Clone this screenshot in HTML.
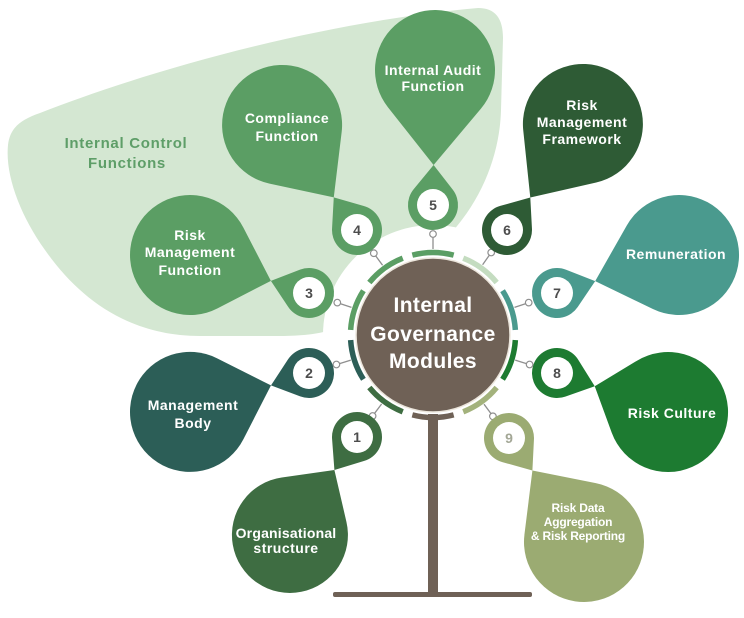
<!DOCTYPE html>
<html>
<head>
<meta charset="utf-8">
<style>
html,body{margin:0;padding:0;background:#fff;}
svg{display:block;}
text{font-family:"Liberation Sans",Arial,sans-serif;font-weight:bold;}
.lbl{fill:#fff;font-size:14px;letter-spacing:0.5px;text-anchor:middle;}
.num{fill:#4d4d4d;font-size:14px;text-anchor:middle;}
.ctr{fill:#fff;font-size:21px;letter-spacing:0.4px;text-anchor:middle;}
.icf{fill:#5e9e68;font-size:15px;letter-spacing:0.7px;text-anchor:middle;}
.rd{fill:#fff;font-size:12px;letter-spacing:-0.2px;text-anchor:middle;}
.seg{fill:none;stroke-width:5.5;}
.con{stroke:#8f8f8f;stroke-width:1.3;fill:none;}
.cc{stroke:#8f8f8f;stroke-width:1.2;fill:#fff;}
</style>
</head>
<body>
<svg width="744" height="618" viewBox="0 0 744 618" xmlns="http://www.w3.org/2000/svg">
<rect width="744" height="618" fill="#fff"/>

<!-- background blob -->
<path d="M478,8 C495,8 503,18 503,38 L501,110 C500,150 485,195 452,232 L330,330 C320,334 300,336 280,336 L200,336 C130,336 80,300 45,250 C20,215 5,175 8,145 C10,128 20,120 40,113 C150,70 320,22 478,8 Z" fill="#d4e7d2"/>
<circle cx="433" cy="335" r="110" fill="#fff"/>

<!-- ring segments -->
<path class="seg" stroke="#5b9e64" d="M412.34,255.13 A82.5,82.5 0 0,1 453.66,255.13"/>
<path class="seg" stroke="#c4dcc0" d="M463.24,258.24 A82.5,82.5 0 0,1 496.66,282.52"/>
<path class="seg" stroke="#4a9a8e" d="M502.58,290.67 A82.5,82.5 0 0,1 515.35,329.97"/>
<path class="seg" stroke="#1d7b31" d="M515.35,340.03 A82.5,82.5 0 0,1 502.58,379.33"/>
<path class="seg" stroke="#a3b27c" d="M496.66,387.48 A82.5,82.5 0 0,1 463.24,411.76"/>
<path class="seg" stroke="#6f6156" d="M453.66,414.87 A82.5,82.5 0 0,1 412.34,414.87"/>
<path class="seg" stroke="#3e6d42" d="M402.76,411.76 A82.5,82.5 0 0,1 369.34,387.48"/>
<path class="seg" stroke="#2c5e57" d="M363.42,379.33 A82.5,82.5 0 0,1 350.65,340.03"/>
<path class="seg" stroke="#5b9e64" d="M350.65,329.97 A82.5,82.5 0 0,1 363.42,290.67"/>
<path class="seg" stroke="#5b9e64" d="M369.34,282.52 A82.5,82.5 0 0,1 402.76,258.24"/>

<!-- stem -->
<rect x="428" y="414" width="10" height="180" fill="#6f6156"/>
<rect x="333" y="592" width="199" height="5" rx="2" fill="#6f6156"/>

<!-- center circle -->
<circle cx="433" cy="335" r="77" fill="#6f6156" stroke="#ece6dc" stroke-width="1.5"/>

<!-- connectors -->
<line class="con" x1="433" y1="249" x2="433" y2="237.3"/><circle class="cc" cx="433" cy="234" r="3.3"/>
<line class="con" x1="382.6" y1="265.3" x2="375.7" y2="255.9"/><circle class="cc" cx="373.8" cy="253.2" r="3.3"/>
<line class="con" x1="482.6" y1="264.7" x2="489.3" y2="255.2"/><circle class="cc" cx="491.2" cy="252.5" r="3.3"/>
<line class="con" x1="351.5" y1="307.4" x2="340.5" y2="303.7"/><circle class="cc" cx="337.3" cy="302.6" r="3.3"/>
<line class="con" x1="514.5" y1="307.4" x2="525.5" y2="303.7"/><circle class="cc" cx="528.7" cy="302.6" r="3.3"/>
<line class="con" x1="350.8" y1="360.1" x2="339.6" y2="363.6"/><circle class="cc" cx="336.4" cy="364.5" r="3.3"/>
<line class="con" x1="515.2" y1="360.1" x2="526.4" y2="363.6"/><circle class="cc" cx="529.6" cy="364.5" r="3.3"/>
<line class="con" x1="381.6" y1="404" x2="374.6" y2="413.3"/><circle class="cc" cx="372.6" cy="416" r="3.3"/>
<line class="con" x1="484" y1="404.2" x2="491" y2="413.6"/><circle class="cc" cx="492.9" cy="416.3" r="3.3"/>

<!-- module 5 -->
<g transform="translate(433,205) rotate(-89.15)" fill="#5b9e64">
<path d="M40,0 L15.63,-19.51 A25,25 0 1,0 15.63,19.51 Z"/>
<path d="M40,0 L97.11,-46.52 A60,60 0 1,1 97.11,46.52 Z"/>
</g>
<!-- module 4 -->
<g transform="translate(357,230) rotate(-125.5)" fill="#5b9e64">
<path d="M40,0 L15.63,-19.51 A25,25 0 1,0 15.63,19.51 Z"/>
<path d="M40,0 L88.55,-44.31 A60,60 0 1,1 88.55,44.31 Z"/>
</g>
<!-- module 6 -->
<g transform="translate(507,230) rotate(-54.4)" fill="#2e5b35">
<path d="M40,0 L15.63,-19.51 A25,25 0 1,0 15.63,19.51 Z"/>
<path d="M40,0 L90.58,-44.88 A60,60 0 1,1 90.58,44.88 Z"/>
</g>
<!-- module 3 -->
<g transform="translate(309,293) rotate(-162.3)" fill="#5b9e64">
<path d="M40,0 L15.63,-19.51 A25,25 0 1,0 15.63,19.51 Z"/>
<path d="M40,0 L82.5,-42.45 A60,60 0 1,1 82.5,42.45 Z"/>
</g>
<!-- module 7 -->
<g transform="translate(557,293) rotate(-17.3)" fill="#4a9a8e">
<path d="M40,0 L15.63,-19.51 A25,25 0 1,0 15.63,19.51 Z"/>
<path d="M40,0 L86.8,-43.8 A60,60 0 1,1 86.8,43.8 Z"/>
</g>
<!-- module 8 -->
<g transform="translate(557,373) rotate(19.36)" fill="#1d7b31">
<path d="M40,0 L15.63,-19.51 A25,25 0 1,0 15.63,19.51 Z"/>
<path d="M40,0 L71.37,-38.12 A60,60 0 1,1 71.37,38.12 Z"/>
</g>
<!-- module 9 -->
<g transform="translate(509,438) rotate(54.2)" fill="#9bab72">
<path d="M40,0 L15.63,-19.51 A25,25 0 1,0 15.63,19.51 Z"/>
<path d="M40,0 L87.38,-43.98 A60,60 0 1,1 87.38,43.98 Z"/>
</g>
<!-- module 1 -->
<g transform="translate(357,437) rotate(124.4)" fill="#3e6d42">
<path d="M40,0 L15.63,-19.51 A25,25 0 1,0 15.63,19.51 Z"/>
<path d="M40,0 L75.96,-39.2 A58,58 0 1,1 75.96,39.2 Z"/>
</g>
<!-- module 2 -->
<g transform="translate(309,373) rotate(161.9)" fill="#2c5e57">
<path d="M40,0 L15.63,-19.51 A25,25 0 1,0 15.63,19.51 Z"/>
<path d="M40,0 L82.95,-42.6 A60,60 0 1,1 82.95,42.6 Z"/>
</g>

<!-- ring whites -->
<g fill="#fff">
<circle cx="433" cy="205" r="16"/>
<circle cx="357" cy="230" r="16"/>
<circle cx="507" cy="230" r="16"/>
<circle cx="309" cy="293" r="16"/>
<circle cx="557" cy="293" r="16"/>
<circle cx="309" cy="373" r="16"/>
<circle cx="557" cy="373" r="16"/>
<circle cx="357" cy="437" r="16"/>
<circle cx="509" cy="438" r="16"/>
</g>

<!-- numbers -->
<text class="num" x="433" y="210">5</text>
<text class="num" x="357" y="235">4</text>
<text class="num" x="507" y="235">6</text>
<text class="num" x="309" y="298">3</text>
<text class="num" x="557" y="298">7</text>
<text class="num" x="309" y="378">2</text>
<text class="num" x="557" y="378">8</text>
<text class="num" x="357" y="442">1</text>
<text class="num" x="509" y="443" style="fill:#a3a796">9</text>

<!-- labels -->
<text class="icf" x="126" y="148">Internal Control</text>
<text class="icf" x="127" y="168">Functions</text>

<text class="lbl" x="433" y="75">Internal Audit</text>
<text class="lbl" x="433" y="91">Function</text>

<text class="lbl" x="287" y="123">Compliance</text>
<text class="lbl" x="287" y="141">Function</text>

<text class="lbl" x="582" y="110">Risk</text>
<text class="lbl" x="582" y="127">Management</text>
<text class="lbl" x="582" y="144">Framework</text>

<text class="lbl" x="190" y="240">Risk</text>
<text class="lbl" x="190" y="257">Management</text>
<text class="lbl" x="190" y="275">Function</text>

<text class="lbl" x="676" y="259">Remuneration</text>

<text class="lbl" x="193" y="410">Management</text>
<text class="lbl" x="193" y="428">Body</text>

<text class="lbl" x="672" y="418">Risk Culture</text>

<text class="lbl" x="286" y="538" style="letter-spacing:0.2px">Organisational</text>
<text class="lbl" x="286" y="553">structure</text>

<text class="rd" x="578" y="512">Risk Data</text>
<text class="rd" x="578" y="526">Aggregation</text>
<text class="rd" x="578" y="540">&amp; Risk Reporting</text>

<text class="ctr" x="433" y="312">Internal</text>
<text class="ctr" x="433" y="341">Governance</text>
<text class="ctr" x="433" y="368">Modules</text>
</svg>
</body>
</html>
